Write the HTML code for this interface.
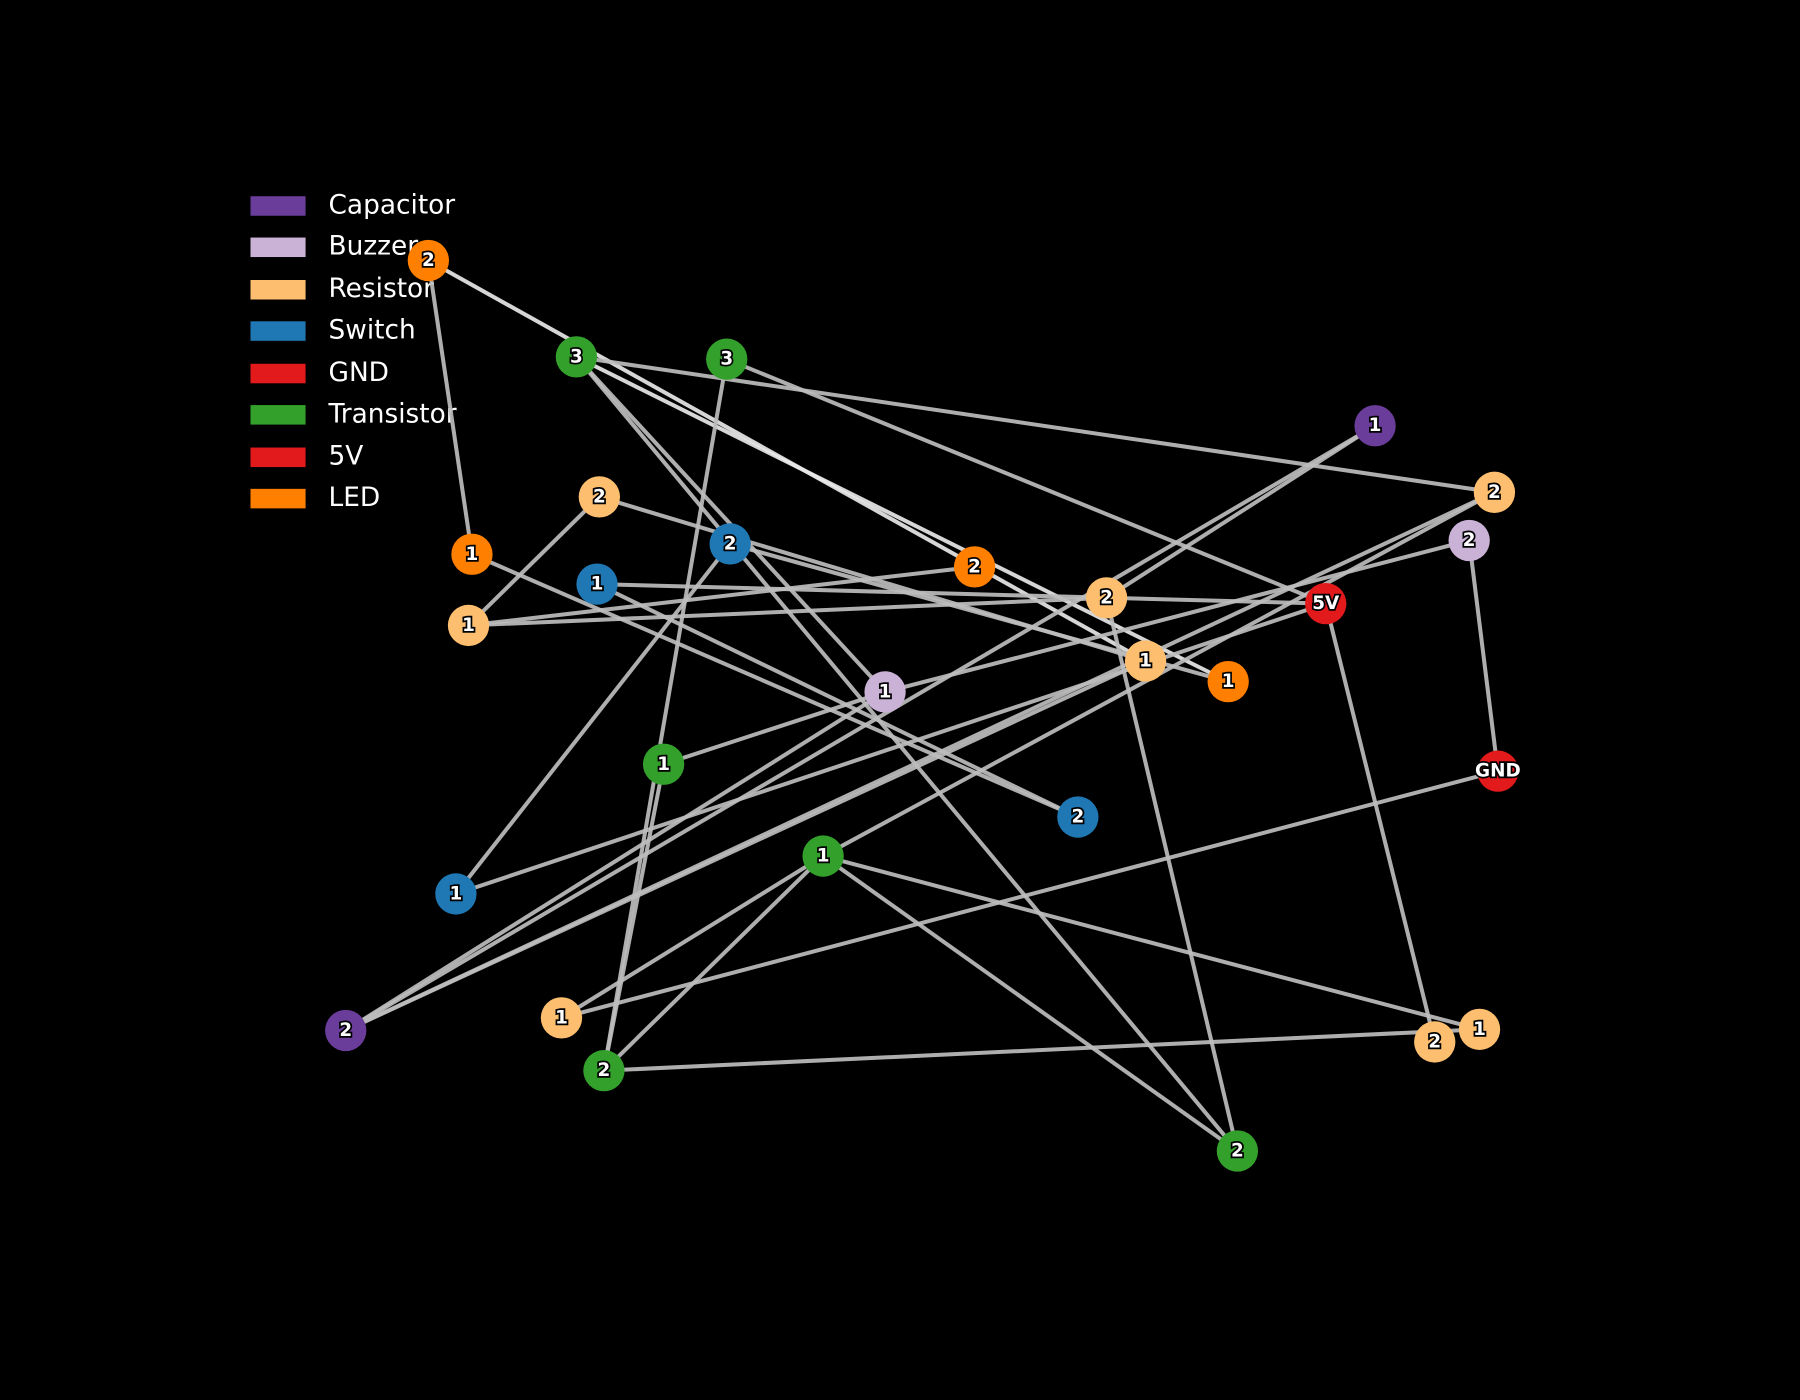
<!DOCTYPE html>
<html><head><meta charset="utf-8"><style>
html,body{margin:0;padding:0;background:#000;}
svg{display:block;}
.e{stroke:#bdbdbd;stroke-width:3.5;stroke-opacity:0.92;fill:none;}
.w{stroke:#e8e8e8;}
.lbl{font-family:"DejaVu Sans",sans-serif;font-weight:bold;font-size:16px;fill:#fff;stroke:#000;stroke-width:3;paint-order:stroke;text-anchor:middle;dominant-baseline:central;}
.leg{font-family:"DejaVu Sans","Liberation Sans",sans-serif;font-size:23px;fill:#fff;dominant-baseline:central;}
</style></head><body>
<svg width="1800" height="1400" viewBox="0 0 1568 1220" xmlns="http://www.w3.org/2000/svg">
<rect width="1568" height="1220" fill="#000"/>
<g>
<rect x="218" y="171" width="48" height="17" fill="#6a3d9a"/><text class="leg" x="286" y="179">Capacitor</text>
<rect x="218" y="207" width="48" height="17" fill="#cab2d6"/><text class="leg" x="286" y="215">Buzzer</text>
<rect x="218" y="244" width="48" height="17" fill="#fdbf6f"/><text class="leg" x="286" y="252">Resistor</text>
<rect x="218" y="280" width="48" height="17" fill="#1f78b4"/><text class="leg" x="286" y="288">Switch</text>
<rect x="218" y="317" width="48" height="17" fill="#e31a1c"/><text class="leg" x="286" y="325">GND</text>
<rect x="218" y="353" width="48" height="17" fill="#33a02c"/><text class="leg" x="286" y="361">Transistor</text>
<rect x="218" y="390" width="48" height="17" fill="#e31a1c"/><text class="leg" x="286" y="398">5V</text>
<rect x="218" y="426" width="48" height="17" fill="#ff7f00"/><text class="leg" x="286" y="434">LED</text>
</g>
<g>
<line class="e" x1="373" y1="227" x2="411" y2="483"/>
<line class="e w" x1="373" y1="227" x2="998" y2="576"/>
<line class="e" x1="502" y1="311" x2="1302" y2="429"/>
<line class="e" x1="502" y1="311" x2="771" y2="603"/>
<line class="e w" x1="502" y1="311" x2="1070" y2="594"/>
<line class="e" x1="502" y1="311" x2="1078" y2="1003"/>
<line class="e" x1="633" y1="313" x2="1155" y2="526"/>
<line class="e" x1="633" y1="313" x2="526" y2="933"/>
<line class="e" x1="1198" y1="371" x2="964" y2="521"/>
<line class="e" x1="1198" y1="371" x2="301" y2="898"/>
<line class="e" x1="1302" y1="429" x2="301" y2="898"/>
<line class="e" x1="1302" y1="429" x2="717" y2="746"/>
<line class="e" x1="1280" y1="471" x2="771" y2="603"/>
<line class="e" x1="1280" y1="471" x2="1305" y2="672"/>
<line class="e" x1="522" y1="433" x2="408" y2="545"/>
<line class="e" x1="522" y1="433" x2="998" y2="576"/>
<line class="e" x1="636" y1="474" x2="1070" y2="594"/>
<line class="e" x1="411" y1="483" x2="939" y2="712"/>
<line class="e" x1="636" y1="474" x2="397" y2="779"/>
<line class="e" x1="520" y1="509" x2="1155" y2="526"/>
<line class="e" x1="520" y1="509" x2="939" y2="712"/>
<line class="e" x1="408" y1="545" x2="849" y2="494"/>
<line class="e" x1="408" y1="545" x2="964" y2="521"/>
<line class="e" x1="964" y1="521" x2="1078" y2="1003"/>
<line class="e" x1="1155" y1="526" x2="1250" y2="908"/>
<line class="e" x1="1155" y1="526" x2="397" y2="779"/>
<line class="e" x1="998" y1="576" x2="301" y2="898"/>
<line class="e" x1="771" y1="603" x2="578" y2="666"/>
<line class="e" x1="771" y1="603" x2="301" y2="898"/>
<line class="e" x1="578" y1="666" x2="526" y2="933"/>
<line class="e" x1="1305" y1="672" x2="489" y2="887"/>
<line class="e" x1="717" y1="746" x2="489" y2="887"/>
<line class="e" x1="717" y1="746" x2="526" y2="933"/>
<line class="e" x1="717" y1="746" x2="1289" y2="897"/>
<line class="e" x1="717" y1="746" x2="1078" y2="1003"/>
<line class="e" x1="526" y1="933" x2="1289" y2="897"/>
</g>
<g>
<circle cx="373" cy="227" r="18" fill="#ff7f00"/><text class="lbl" x="373" y="227">2</text>
<circle cx="502" cy="311" r="18" fill="#33a02c"/><text class="lbl" x="502" y="311">3</text>
<circle cx="633" cy="313" r="18" fill="#33a02c"/><text class="lbl" x="633" y="313">3</text>
<circle cx="1198" cy="371" r="18" fill="#6a3d9a"/><text class="lbl" x="1198" y="371">1</text>
<circle cx="1302" cy="429" r="18" fill="#fdbf6f"/><text class="lbl" x="1302" y="429">2</text>
<circle cx="1280" cy="471" r="18" fill="#cab2d6"/><text class="lbl" x="1280" y="471">2</text>
<circle cx="522" cy="433" r="18" fill="#fdbf6f"/><text class="lbl" x="522" y="433">2</text>
<circle cx="411" cy="483" r="18" fill="#ff7f00"/><text class="lbl" x="411" y="483">1</text>
<circle cx="636" cy="474" r="18" fill="#1f78b4"/><text class="lbl" x="636" y="474">2</text>
<circle cx="849" cy="494" r="18" fill="#ff7f00"/><text class="lbl" x="849" y="494">2</text>
<circle cx="520" cy="509" r="18" fill="#1f78b4"/><text class="lbl" x="520" y="509">1</text>
<circle cx="408" cy="545" r="18" fill="#fdbf6f"/><text class="lbl" x="408" y="545">1</text>
<circle cx="964" cy="521" r="18" fill="#fdbf6f"/><text class="lbl" x="964" y="521">2</text>
<circle cx="1155" cy="526" r="18" fill="#e31a1c"/><text class="lbl" x="1155" y="526">5V</text>
<circle cx="998" cy="576" r="18" fill="#fdbf6f"/><text class="lbl" x="998" y="576">1</text>
<circle cx="1070" cy="594" r="18" fill="#ff7f00"/><text class="lbl" x="1070" y="594">1</text>
<circle cx="771" cy="603" r="18" fill="#cab2d6"/><text class="lbl" x="771" y="603">1</text>
<circle cx="578" cy="666" r="18" fill="#33a02c"/><text class="lbl" x="578" y="666">1</text>
<circle cx="1305" cy="672" r="18" fill="#e31a1c"/><text class="lbl" x="1305" y="672">GND</text>
<circle cx="939" cy="712" r="18" fill="#1f78b4"/><text class="lbl" x="939" y="712">2</text>
<circle cx="717" cy="746" r="18" fill="#33a02c"/><text class="lbl" x="717" y="746">1</text>
<circle cx="397" cy="779" r="18" fill="#1f78b4"/><text class="lbl" x="397" y="779">1</text>
<circle cx="301" cy="898" r="18" fill="#6a3d9a"/><text class="lbl" x="301" y="898">2</text>
<circle cx="489" cy="887" r="18" fill="#fdbf6f"/><text class="lbl" x="489" y="887">1</text>
<circle cx="526" cy="933" r="18" fill="#33a02c"/><text class="lbl" x="526" y="933">2</text>
<circle cx="1250" cy="908" r="18" fill="#fdbf6f"/><text class="lbl" x="1250" y="908">2</text>
<circle cx="1289" cy="897" r="18" fill="#fdbf6f"/><text class="lbl" x="1289" y="897">1</text>
<circle cx="1078" cy="1003" r="18" fill="#33a02c"/><text class="lbl" x="1078" y="1003">2</text>
</g>
</svg>
</body></html>
